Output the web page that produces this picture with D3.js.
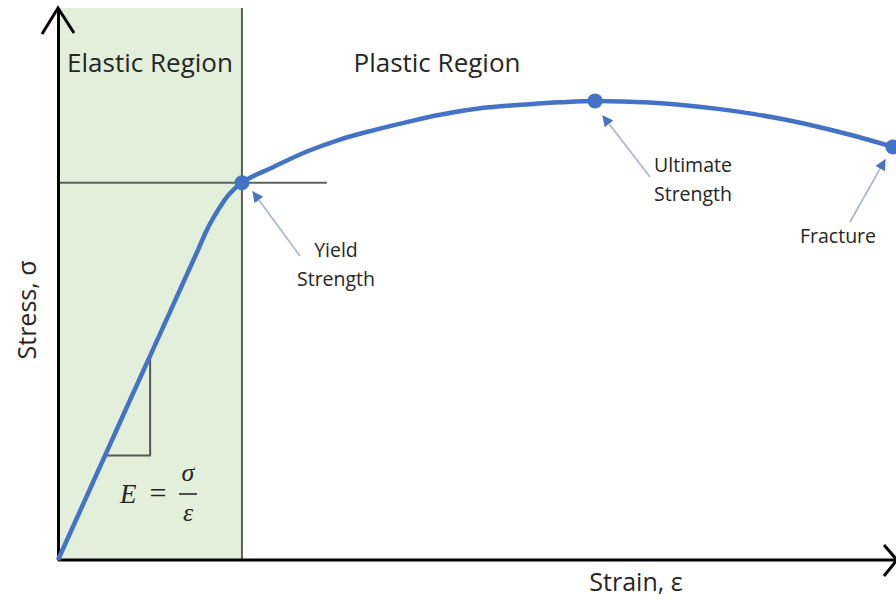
<!DOCTYPE html>
<html>
<head>
<meta charset="utf-8">
<script src="https://cdn.jsdelivr.net/npm/d3@7/dist/d3.min.js"></script>
<style>
  html, body { margin: 0; padding: 0; background: #ffffff; }
  svg { display: block; }
  text { font-family: "Open Sans", "Noto Sans", sans-serif; fill: #262626; }
</style>
</head>
<body>
<svg id="chart" width="896" height="602"></svg>
<script>
// ---- data (strain, stress in MPa) ----
const strain = [0, 0.025, 0.050, 0.0532, 0.0571, 0.0604, 0.0632, 0.0657, 0.0768, 0.0889, 0.1007, 0.1125, 0.1246,
                0.1364, 0.1507, 0.1686, 0.1793, 0.1918, 0.2114, 0.2246, 0.2364, 0.2482, 0.2604,
                0.2721, 0.2839, 0.2982];
const stress = [0, 169, 337, 359, 380, 395, 404, 410, 427, 444, 457, 467, 476,
                484, 491, 495.5, 497.5, 499, 497.2, 494.1, 490.1, 484.9, 478.2,
                470.4, 461.4, 449];
const pointNames = ["Yield Strength", "Ultimate Strength", "Fracture"];
const pointStrain = [0.0657, 0.1918, 0.2982];
const pointStress = [410, 499, 449];
const regionLabels = ["Elastic Region", "Plastic Region"];
const axisLabels = ["Strain, ε", "Stress, σ"];
const yieldLineEnd = 0.096;          // strain where the yield reference line stops
const slopeTri = [0.0168, 0.0329];   // strain span of the modulus triangle

const svg = d3.select("#chart");
const x = d3.scaleLinear().domain([0, 0.30]).range([58, 898]);
const y = d3.scaleLinear().domain([0, 600]).range([560, 8]);
const data = strain.map((s, i) => ({ s, t: stress[i] }));

const blue = "#4472c4";

// elastic region fill
svg.append("rect")
  .attr("x", x(0)).attr("y", y(600))
  .attr("width", x(pointStrain[0]) - x(0))
  .attr("height", y(0) - y(600))
  .attr("fill", "#e2efda");
svg.append("line")
  .attr("x1", x(pointStrain[0])).attr("x2", x(pointStrain[0]))
  .attr("y1", y(600)).attr("y2", y(0))
  .attr("stroke", "#5a5f5a").attr("stroke-width", 2);

// yield reference line
svg.append("line")
  .attr("x1", x(0)).attr("x2", x(yieldLineEnd))
  .attr("y1", y(pointStress[0])).attr("y2", y(pointStress[0]))
  .attr("stroke", "#5f6360").attr("stroke-width", 2);

// modulus triangle
const E = stress[1] / strain[1];
svg.append("path")
  .attr("d", `M${x(slopeTri[0])},${y(E * slopeTri[0])} H${x(slopeTri[1])} V${y(E * slopeTri[1])}`)
  .attr("fill", "none").attr("stroke", "#555a55").attr("stroke-width", 2);

// axes
const xAxis = d3.axisBottom(x).ticks(0).tickSizeOuter(0);
const yAxis = d3.axisLeft(y).ticks(0).tickSizeOuter(0);
const gx = svg.append("g").attr("transform", `translate(0,${y(0)})`).call(xAxis);
const gy = svg.append("g").attr("transform", `translate(${x(0)},0)`).call(yAxis);
[gx, gy].forEach(g => g.select(".domain").attr("stroke", "#000").attr("stroke-width", 3));
gx.select(".domain").attr("d", `M${x(0)},0H896`);
// arrowheads
svg.append("path")
  .attr("d", `M${x(0) - 16},${y(600) + 26} L${x(0)},${y(600)} L${x(0) + 16},${y(600) + 25}`)
  .attr("fill", "none").attr("stroke", "#000").attr("stroke-width", 3);
svg.append("path")
  .attr("d", `M884,${y(0) - 15} L897,${y(0)} L884,${y(0) + 16}`)
  .attr("fill", "none").attr("stroke", "#000").attr("stroke-width", 3);

// curve
const line = d3.line().x(d => x(d.s)).y(d => y(d.t)).curve(d3.curveMonotoneX);
svg.append("path").datum(data)
  .attr("d", line)
  .attr("fill", "none").attr("stroke", blue).attr("stroke-width", 4.5)
  .attr("stroke-linejoin", "round");

// points
svg.selectAll("circle.pt").data(pointStrain).join("circle")
  .attr("class", "pt")
  .attr("cx", d => x(d)).attr("cy", (d, i) => y(pointStress[i]))
  .attr("r", 7.5).attr("fill", blue);

// annotation arrows
svg.append("defs").append("marker")
  .attr("id", "ah").attr("viewBox", "0 0 10 10").attr("refX", 9).attr("refY", 5)
  .attr("markerWidth", 11).attr("markerHeight", 11).attr("markerUnits", "userSpaceOnUse")
  .attr("orient", "auto")
  .append("path").attr("d", "M0,0 L10,5 L0,10 Z").attr("fill", "#4a74c0");

const ann = [
  { from: [300, 256], to: [253, 192], lines: ["Yield", "Strength"], tx: 336, ty: [257, 286] },
  { from: [650, 177], to: [603, 116], lines: ["Ultimate", "Strength"], tx: 693, ty: [172, 201] },
  { from: [850, 222], to: [885, 160], lines: ["Fracture"], tx: 838, ty: [243] }
];
ann.forEach((a, i) => {
  svg.append("line")
    .attr("x1", a.from[0]).attr("y1", a.from[1])
    .attr("x2", a.to[0]).attr("y2", a.to[1])
    .attr("stroke", "#a9b5c9").attr("stroke-width", 1.6)
    .attr("marker-end", "url(#ah)");
  a.lines.forEach((t, j) => {
    svg.append("text").attr("x", a.tx).attr("y", a.ty[j])
      .attr("text-anchor", "middle").attr("font-size", 19.5).text(t);
  });
});

// region labels
svg.append("text").attr("x", 150).attr("y", 72).attr("text-anchor", "middle")
  .attr("font-size", 26).text(regionLabels[0]);
svg.append("text").attr("x", 437).attr("y", 72).attr("text-anchor", "middle")
  .attr("font-size", 26).text(regionLabels[1]);

// axis labels
svg.append("text").attr("x", 636).attr("y", 591).attr("text-anchor", "middle")
  .attr("font-size", 25).text(axisLabels[0]);
svg.append("text").attr("transform", "translate(36,310) rotate(-90)").attr("text-anchor", "middle")
  .attr("font-size", 25).text(axisLabels[1]);

// modulus formula
const f = svg.append("g").attr("font-style", "italic");
f.append("text").attr("x", 120).attr("y", 503).attr("font-size", 27)
  .style("font-family", "'Liberation Serif', serif").text("E");
f.append("text").attr("x", 158).attr("y", 503).attr("text-anchor", "middle").attr("font-size", 30)
  .style("font-style", "normal").style("font-family", "'Liberation Serif', serif").text("=");
f.append("line").attr("x1", 179).attr("x2", 197).attr("y1", 494).attr("y2", 494)
  .attr("stroke", "#262626").attr("stroke-width", 1.6);
f.append("text").attr("x", 188).attr("y", 481).attr("text-anchor", "middle").attr("font-size", 26)
  .style("font-family", "'Liberation Serif', serif").text("σ");
f.append("text").attr("x", 188).attr("y", 521).attr("text-anchor", "middle").attr("font-size", 26)
  .style("font-family", "'Liberation Serif', serif").text("ε");
</script>
</body>
</html>
